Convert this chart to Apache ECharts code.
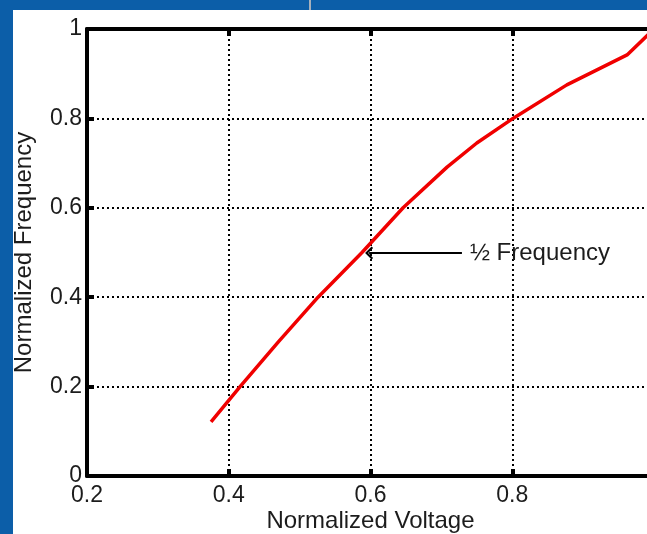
<!DOCTYPE html>
<html>
<head>
<meta charset="utf-8">
<script src="https://cdn.jsdelivr.net/npm/echarts@6/dist/echarts.min.js"></script>
<style>
    html, body { margin: 0; padding: 0; width: 647px; height: 534px; overflow: hidden; background: #0c5ea8; }
    #mainChart { position: absolute; left: 13px; top: 10px; width: 634px; height: 524px; background: #ffffff; }
    #notch { position: absolute; left: 309px; top: 0; width: 2px; height: 10px; background: #a7b1bc; }
</style>
</head>
<body>
<div id="notch"></div>
<div id="mainChart"></div>
<script>
// 曲线数据（归一化电压 / 归一化频率）
var voltage = [0.375, 0.416, 0.47, 0.526, 0.588, 0.646, 0.708, 0.75, 0.801, 0.877, 0.962, 1.0];
var frequency = [0.121, 0.2, 0.3, 0.4, 0.5, 0.6, 0.691, 0.745, 0.80, 0.875, 0.942, 1.0];

// 注释箭头：从文字处指向曲线
var arrowFrom = [0.729, 0.499];
var arrowTo = [0.598, 0.499];
var arrowText = "½ Frequency";

var xName = "Normalized Voltage";
var yName = "Normalized Frequency";

(function () {
    "use strict";

    var chart = echarts.init(document.getElementById("mainChart"));
    var font = "'Liberation Sans', Arial, sans-serif";
    var ink = "#1c1c1c";

    var points = voltage.map(function (v, i) { return [v, frequency[i]]; });

    var dotLine = { color: "#000", width: 2, type: [2, 3] };

    function axisBase(extra) {
        var base = {
            type: "value",
            axisLine: { show: true, onZero: false, lineStyle: { color: "#000", width: 4 } },
            axisTick: { show: true, inside: true, length: 7, lineStyle: { color: "#000", width: 4 } },
            splitLine: { show: false },
        };
        return Object.assign(base, extra);
    }

    chart.setOption({
        backgroundColor: "#ffffff",
        animation: false,
        grid: { left: 74, right: -7, top: 19, bottom: 58, containLabel: false, outerBoundsMode: "none" },
        xAxis: [
            axisBase({
                min: 0.2, max: 1, interval: 0.2, position: "bottom",
                name: xName, nameLocation: "middle", nameGap: 33, nameMoveOverlap: false,
                nameTextStyle: { color: ink, fontSize: 24, fontFamily: font },
                axisLabel: { color: ink, fontSize: 23, fontFamily: font, margin: 8 },
                splitLine: { show: true, lineStyle: dotLine },
            }),
            axisBase({
                min: 0.2, max: 1, interval: 0.2, position: "top",
                axisLabel: { show: false },
            }),
        ],
        yAxis: [
            axisBase({
                min: 0, max: 1, interval: 0.2, position: "left",
                name: yName, nameLocation: "middle", nameGap: 51, nameMoveOverlap: false,
                nameTextStyle: { color: ink, fontSize: 24, fontFamily: font },
                axisLabel: { color: ink, fontSize: 23, fontFamily: font, margin: 5 },
                splitLine: { show: true, lineStyle: dotLine },
            }),
            axisBase({
                min: 0, max: 1, interval: 0.2, position: "right",
                axisLabel: { show: false },
            }),
        ],
        series: [
            {
                type: "line", data: points, symbol: "none",
                lineStyle: { color: "#f00000", width: 3.5 },
                xAxisIndex: 0, yAxisIndex: 0,
                markLine: {
                    silent: true,
                    symbol: ["none", "path://M6.5,0 L13,6.5 L11.5,8 L6.5,3 L1.5,8 L0,6.5 Z"],
                    symbolSize: [13, 8],
                    lineStyle: { color: "#000", width: 2, type: "solid" },
                    label: {
                        show: true, position: "start", distance: 8,
                        formatter: arrowText,
                        color: ink, fontSize: 24, fontFamily: font,
                    },
                    data: [[{ coord: arrowFrom }, { coord: arrowTo }]],
                },
            },
        ],
    });
})();
</script>
</body>
</html>
